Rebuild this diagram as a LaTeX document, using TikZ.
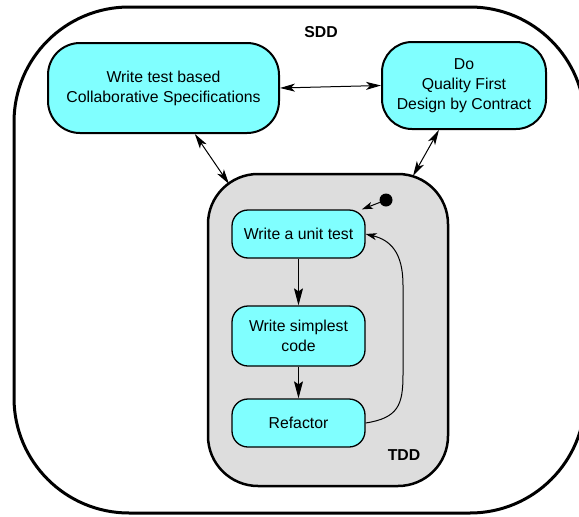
\documentclass[tikz,border=0pt]{standalone}
\usepackage{fontspec}
\setmainfont{Liberation Sans}
\usetikzlibrary{arrows.meta}
\definecolor{boxcyan}{HTML}{80FFFF}
\definecolor{tddgray}{HTML}{DDDDDD}
\begin{document}
\begin{tikzpicture}[x=1pt,y=-1pt,
  every node/.style={font=\fontsize{15.8}{20}\selectfont},
  bigbox/.style={draw, line width=2pt, fill=boxcyan, rounded corners=32pt, align=center, inner sep=0pt},
  smallbox/.style={draw, line width=1.3pt, fill=boxcyan, rounded corners=16pt, align=center, inner sep=0pt, minimum width=133pt},
  container/.style={draw, inner sep=0pt},
  biarrow/.style={line width=1pt, {Stealth[length=15pt,width=8pt,inset=4pt]}-{Stealth[length=15pt,width=8pt,inset=4pt]}},
  flowarrow/.style={line width=1pt, -{Stealth[length=17pt,width=9pt,inset=3pt]}},
  smallarrow/.style={line width=1pt, -{Stealth[length=11pt,width=7pt,inset=3pt]}},
  heading/.style={font=\fontsize{15.8}{20}\selectfont\bfseries}
]
\clip (0,0) rectangle (579,517);
% outer SDD container
\node[container, line width=3pt, rounded corners=115pt, minimum width=571pt, minimum height=506pt] (sdd) at (299.5,260) {};
\node[heading] (sddlabel) at (321,32) {SDD};
% top boxes
\node[bigbox, minimum width=231pt, minimum height=90pt] (a) at (163.5,88) {Write test based\\Collaborative Specifications};
\node[bigbox, rounded corners=30pt, minimum width=164pt, minimum height=87pt] (b) at (464,85.5) {Do\\Quality First\\Design by Contract};
% TDD container
\node[container, line width=2.5pt, fill=tddgray, rounded corners=50pt, minimum width=240pt, minimum height=312pt] (tdd) at (328,330) {};
\node[heading] (tddlabel) at (404,455) {TDD};
\coordinate (tddA) at (229,184);
\coordinate (tddB) at (413,176);
% inner boxes
\node[smallbox, minimum height=48pt] (wut) at (298.5,234) {Write a unit test};
\node[smallbox, minimum height=60pt] (wsc) at (298.5,336) {Write simplest\\code};
\node[smallbox, minimum height=48pt] (ref) at (298.5,423) {Refactor};
\node[circle, fill=black, inner sep=0pt, minimum size=13pt] (dot) at (386,200) {};
% connectors
\draw[biarrow] (a.east) -- (b.west);
\draw[biarrow] (a) -- (tddA);
\draw[biarrow] (b) -- (tddB);
\draw[smallarrow] (dot) -- (wut);
\draw[flowarrow] (wut) -- (wsc);
\draw[flowarrow] (wsc) -- (ref);
\draw[smallarrow] (ref.east) .. controls (398,418) and (403,405) .. (403,375) -- (403,285) .. controls (403,252) and (390,240) .. (wut.east);
\end{tikzpicture}
\end{document}
